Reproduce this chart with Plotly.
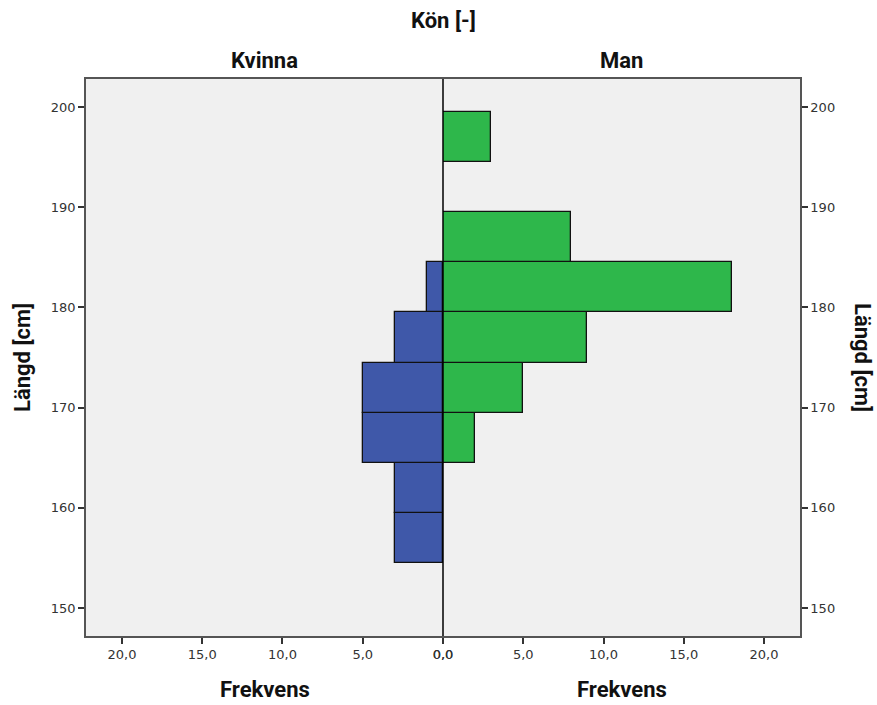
import plotly.graph_objects as go
from plotly.subplots import make_subplots

bin_centers = [157, 162, 167, 172, 177, 182, 187, 192, 197]
kvinna = [3, 3, 5, 5, 3, 1, 0, 0, 0]
man = [0, 0, 2, 5, 9, 18, 8, 0, 3]
x_ticks = [0, 5, 10, 15, 20]
x_ticktext = ["0,0", "5,0", "10,0", "15,0", "20,0"]
y_ticks = [150, 160, 170, 180, 190, 200]

blue = "#3F58A9"
green = "#2EB74B"
tick_font = dict(family="DejaVu Sans", size=13, color="#333333")
title_font = dict(family="Roboto, Arial", size=22, color="#111111")

fig = make_subplots(rows=1, cols=2, horizontal_spacing=0)

kv_y = [c for c, v in zip(bin_centers, kvinna) if v > 0]
kv_x = [v for v in kvinna if v > 0]
ma_y = [c for c, v in zip(bin_centers, man) if v > 0]
ma_x = [v for v in man if v > 0]

fig.add_trace(go.Bar(y=kv_y, x=kv_x, orientation="h", width=5,
                     marker=dict(color=blue, line=dict(color="#111111", width=1.3)),
                     showlegend=False), row=1, col=1)
fig.add_trace(go.Bar(y=ma_y, x=ma_x, orientation="h", width=5,
                     marker=dict(color=green, line=dict(color="#111111", width=1.3)),
                     showlegend=False), row=1, col=2)

xr = 22.24
yr = [147.2, 202.8]
common_x = dict(tickvals=x_ticks, ticktext=x_ticktext, ticks="outside", ticklen=6,
                tickwidth=2, tickcolor="#333333", tickfont=tick_font, showgrid=False,
                zeroline=False, showline=True, linecolor="#555555", linewidth=1.5,
                mirror=True)
fig.update_xaxes(range=[xr, 0], row=1, col=1, **common_x)
fig.update_xaxes(range=[0, xr], row=1, col=2, **common_x)

common_y = dict(range=yr, tickvals=y_ticks, ticks="outside", ticklen=6, tickwidth=1.5,
                tickcolor="#333333", tickfont=tick_font, showgrid=False, zeroline=False,
                showline=True, linecolor="#555555", linewidth=1.5)
fig.update_yaxes(row=1, col=1, side="left", mirror=False, **common_y)
fig.update_yaxes(row=1, col=2, side="right", mirror=False, **common_y)

fig.add_shape(type="line", xref="paper", yref="paper", x0=0.5, x1=0.5, y0=0, y1=1,
              line=dict(color="#000000", width=1.5), layer="above")

W, H = 877, 705
l, r, t, b = 86, 77, 79, 69
annotations = [
    ("<b>Kön [-]</b>", 0.5, 20),
    ("<b>Kvinna</b>", 0.25, 60),
    ("<b>Man</b>", 0.75, 60),
    ("<b>Frekvens</b>", 0.25, 689),
    ("<b>Frekvens</b>", 0.75, 689),
]
for text, xp, ypx in annotations:
    fig.add_annotation(text=text, x=xp, xref="paper", yref="paper",
                       y=(H - b - ypx) / (H - t - b),
                       showarrow=False, font=title_font, xanchor="center", yanchor="middle")
fig.add_annotation(text="<b>Längd [cm]</b>", xref="paper", yref="paper",
                   x=(22 - l) / (W - l - r), y=(H - b - 358) / (H - t - b), textangle=-90,
                   showarrow=False, font=title_font, xanchor="center", yanchor="middle")
fig.add_annotation(text="<b>Längd [cm]</b>", xref="paper", yref="paper",
                   x=(863 - l) / (W - l - r), y=(H - b - 358) / (H - t - b), textangle=90,
                   showarrow=False, font=title_font, xanchor="center", yanchor="middle")

fig.update_layout(width=W, height=H, margin=dict(l=l, r=r, t=t, b=b),
                  plot_bgcolor="#F0F0F0", paper_bgcolor="white", bargap=0,
                  barmode="overlay")

fig.write_html("out.html")
